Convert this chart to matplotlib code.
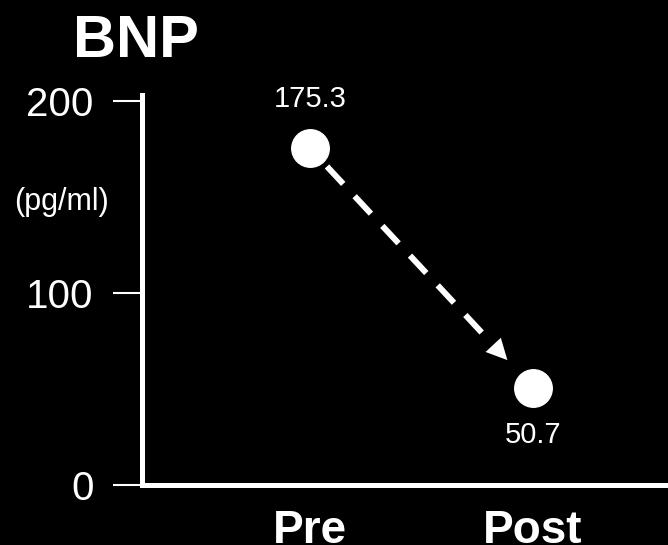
import numpy as np
import matplotlib
matplotlib.use("Agg")
import matplotlib.pyplot as plt

plt.rcParams['font.family'] = ['Liberation Sans', 'DejaVu Sans']

# data
groups = ['Pre', 'Post']
bnp = [175.3, 50.7]
labels = ['175.3', '50.7']
yticks = [0, 100, 200]

fig = plt.figure(figsize=(6.68, 5.45), dpi=100, facecolor='black')
ax = fig.add_axes([0.2133, 0.110, 0.7867, 0.7156])
ax.set_facecolor('black')

x = np.arange(len(groups))
y = np.array(bnp)

# dashed arrow between the two points
p0 = np.array([x[0], y[0]])
p1 = np.array([x[1], y[1]])
start = p0 + 0.076 * (p1 - p0)
stop = p0 + 0.82 * (p1 - p0)
tip = p0 + 0.885 * (p1 - p0)
ax.plot([start[0], stop[0]], [start[1], stop[1]], color='white', lw=4.3,
        linestyle=(0, (4, 2.8)), dash_capstyle='butt', zorder=2)
ax.annotate('', xy=tip, xytext=stop,
            arrowprops=dict(arrowstyle='-|>,head_length=1.5,head_width=0.75',
                            mutation_scale=10, color='white', lw=0,
                            shrinkA=0, shrinkB=0), zorder=3)

ax.plot(x, y, 'o', ms=27, mfc='white', mec='white', zorder=4)

# value labels
ax.annotate(labels[0], xy=(x[0], y[0]), xytext=(0, 30), textcoords='offset points',
            ha='center', va='baseline', color='white', fontsize=21)
ax.annotate(labels[1], xy=(x[1], y[1]), xytext=(0, -40), textcoords='offset points',
            ha='center', va='baseline', color='white', fontsize=21)

ax.set_xlim(-0.751, 1.605)
ax.set_ylim(0, 203)
ax.set_xticks(x)
ax.set_xticklabels(groups, fontsize=33, fontweight='bold', color='white')
ax.set_yticks(yticks)
ax.set_yticklabels([str(t) for t in yticks], fontsize=29, color='white')
ax.tick_params(axis='x', length=0, pad=17)
ax.tick_params(axis='y', length=21, width=1.5, color='white', pad=14, direction='out')

for s in ['top', 'right']:
    ax.spines[s].set_visible(False)
for s in ['left', 'bottom']:
    ax.spines[s].set_color('white')
    ax.spines[s].set_linewidth(3.6)
    ax.spines[s].set_capstyle('projecting')

fig.text(0.2036, 0.8954, 'BNP', fontsize=43, fontweight='bold', color='white',
         ha='center', va='baseline')
fig.text(0.0928, 0.6147, '(pg/ml)', fontsize=22, color='white',
         ha='center', va='baseline')

fig.savefig('out.png', dpi=100, facecolor='black')
